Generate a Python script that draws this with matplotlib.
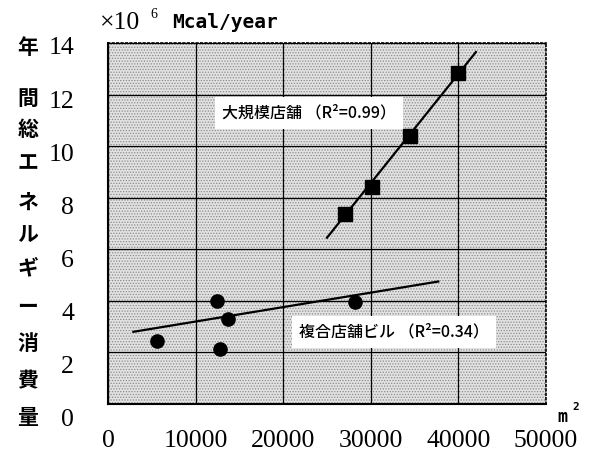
import matplotlib
matplotlib.use("Agg")
import matplotlib.pyplot as plt
from matplotlib.patches import Rectangle
from matplotlib.transforms import ScaledTranslation

# large stores (squares) and their trend line
large_area = [27000, 30100, 34500, 39950]
large_energy = [7.35, 8.4, 10.4, 12.85]
large_fit_x = [25000, 42000]
large_fit_y = [6.45, 13.65]

# mixed store buildings (circles) and their trend line
mixed_area = [5600, 12400, 13700, 12800, 28200]
mixed_energy = [2.45, 4.0, 3.3, 2.15, 3.95]
mixed_fit_x = [2900, 37700]
mixed_fit_y = [2.8, 4.75]

x_ticks = [0, 10000, 20000, 30000, 40000, 50000]
y_ticks = [0, 2, 4, 6, 8, 10, 12, 14]
ylabel_chars = list("年間総エネルギー消費量")
large_label = "大規模店舗 （R²=0.99）"
mixed_label = "複合店舗ビル （R²=0.34）"

num_font = "Liberation Serif"
jp_font = ["Noto Sans CJK JP", "DejaVu Sans"]
plt.rcParams["hatch.linewidth"] = 0.6

fig = plt.figure(figsize=(5.89, 4.55), dpi=100)
W, H = 589, 455
ax = fig.add_axes([108 / W, 51 / H, 438 / W, 361 / H])

# stippled background
ax.set_facecolor("#e2e2e2")
ax.add_patch(Rectangle((0, 0), 1, 1, transform=ax.transAxes, facecolor="none",
                       edgecolor="#8a8a8a", hatch="......", lw=0, zorder=0))

ax.set_xlim(0, 50000)
ax.set_ylim(0, 14)
ax.set_xticks(x_ticks)
ax.set_yticks(y_ticks)
ax.set_xticklabels([str(v) for v in x_ticks], fontfamily=num_font, fontsize=18.5)
ax.set_yticklabels([str(v) for v in y_ticks], fontfamily=num_font, fontsize=18.5)
ax.tick_params(axis="x", length=0, pad=19)
ax.tick_params(axis="y", length=0, pad=24.5)
ax.grid(True, color="black", lw=0.9)

# y labels drift slightly below their grid lines in the original
for lab, v in zip(ax.get_yticklabels(), y_ticks):
    dy = 3 + (14 - v) / 14 * 10.8
    lab.set_transform(lab.get_transform() + ScaledTranslation(0, -dy / 100, fig.dpi_scale_trans))

for s in ["left", "bottom"]:
    ax.spines[s].set_linewidth(1.5)
for s in ["top", "right"]:
    ax.spines[s].set_linestyle(":")
    ax.spines[s].set_linewidth(1.2)

# data
ax.plot(large_fit_x, large_fit_y, color="black", lw=1.6, zorder=3)
ax.plot(large_area, large_energy, "s", color="black", ms=10.5, zorder=4)
ax.plot(mixed_fit_x, mixed_fit_y, color="black", lw=1.6, zorder=3)
ax.plot(mixed_area, mixed_energy, "o", color="black", ms=9.5, zorder=4)

box = dict(boxstyle="square,pad=0.45", facecolor="white", edgecolor="none")
ax.text(13000, 11.28, large_label, fontfamily=jp_font, fontsize=11.5, fontweight="medium",
        va="center", ha="left", bbox=box, zorder=5)
ax.text(21800, 2.79, mixed_label, fontfamily=jp_font, fontsize=11.5, fontweight="medium",
        va="center", ha="left", bbox=box, zorder=5)

# vertical y axis title, one character per line
char_y = [47, 98, 129, 163, 202, 235, 268, 306, 343, 381, 418]
for ch, y in zip(ylabel_chars, char_y):
    fig.text(28 / W, 1 - y / H, ch, fontfamily=jp_font, fontsize=15, fontweight="bold",
             ha="center", va="center")

# unit labels
fig.text(100 / W, 1 - 23 / H, "×10", fontfamily=num_font, fontsize=18.5, ha="left", va="center")
fig.text(150 / W, 1 - 14 / H, "6", fontfamily=num_font, fontsize=10, ha="left", va="center")
fig.text(172 / W, 1 - 23 / H, "Mcal/year", fontfamily="DejaVu Sans Mono", fontweight="bold",
         fontsize=14, ha="left", va="center")
fig.text(557 / W, 1 - 417 / H, "m", fontfamily="DejaVu Sans Mono", fontweight="bold",
         fontsize=12, ha="left", va="center")
fig.text(572 / W, 1 - 407 / H, "2", fontfamily="DejaVu Sans Mono", fontweight="bold",
         fontsize=8, ha="left", va="center")

fig.savefig("out.png", dpi=100)
